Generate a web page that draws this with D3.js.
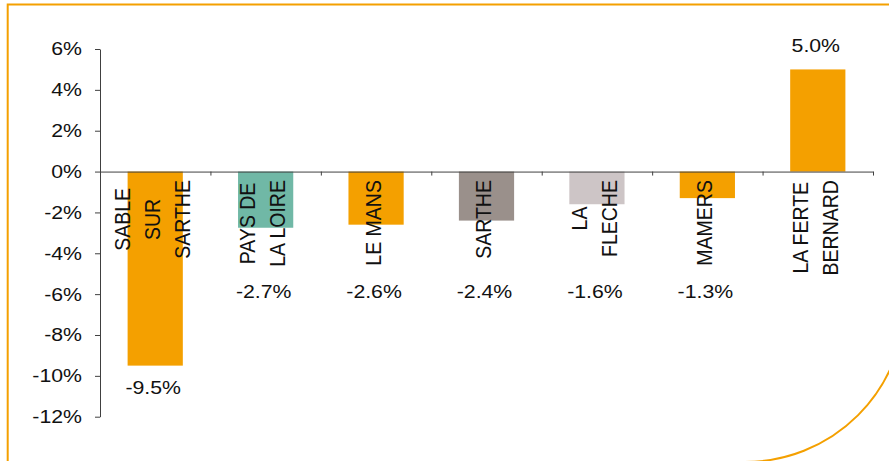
<!DOCTYPE html>
<html>
<head>
<meta charset="utf-8">
<script src="https://cdn.jsdelivr.net/npm/d3@7"></script>
<style>
  body { margin: 0; background: #fff; }
  svg { display: block; font-family: "Liberation Sans", Arial, sans-serif; }
</style>
</head>
<body>
<div id="wrapper"></div>
<script>
// data
const categories = ["SABLE\nSUR\nSARTHE", "PAYS DE\nLA LOIRE", "LE MANS", "SARTHE", "LA\nFLECHE", "MAMERS", "LA FERTE\nBERNARD"];
const values = [-9.5, -2.75, -2.6, -2.4, -1.6, -1.3, 5.0];
const valueLabels = ["-9.5%", "-2.7%", "-2.6%", "-2.4%", "-1.6%", "-1.3%", "5.0%"];
const barColors = ["#F4A000", "#70B8A6", "#F4A000", "#9A908B", "#CDC5C6", "#F4A000", "#F4A000"];
const yTicks = [-12, -10, -8, -6, -4, -2, 0, 2, 4, 6];

const width = 889, height = 461;
const stretch = 1.15; // text in the picture is a little wide

const svg = d3.select("#wrapper")
    .append("svg")
    .attr("width", width)
    .attr("height", height);

// orange frame, round bottom-right corner runs off the picture
svg.append("path")
    .attr("d", "M7.7,470 V4.5 H905 V302 A160,160 0 0 1 745,462 H7.7")
    .attr("fill", "none")
    .attr("stroke", "#F4A000")
    .attr("stroke-width", 2);

const xScale = d3.scaleBand()
    .domain(d3.range(categories.length))
    .range([100, 873])
    .paddingInner(0.5)
    .paddingOuter(0.25);

const yScale = d3.scaleLinear()
    .domain([-12, 6])
    .range([416.7, 49]);

// bars
svg.selectAll("rect.bar")
    .data(values)
    .join("rect")
    .attr("class", "bar")
    .attr("x", (d, i) => xScale(i))
    .attr("width", xScale.bandwidth())
    .attr("y", d => yScale(Math.max(0, d)))
    .attr("height", d => Math.abs(yScale(d) - yScale(0)))
    .attr("fill", (d, i) => barColors[i]);

// y axis
const yAxis = svg.append("g")
    .attr("transform", "translate(100,0)")
    .call(d3.axisLeft(yScale)
        .tickValues(yTicks)
        .tickSize(5)
        .tickSizeOuter(0)
        .tickFormat(d => d + "%"));

yAxis.select(".domain").attr("stroke", "#404040");
yAxis.selectAll(".tick line").attr("stroke", "#404040");
yAxis.selectAll(".tick text")
    .attr("x", -18 / stretch)
    .attr("transform", `scale(${stretch},1)`)
    .attr("fill", "#111")
    .style("font-size", "18.5px")
    .style("font-family", "'Liberation Sans', Arial, sans-serif");

// x axis at zero, ticks between categories
const xEdge = d3.scaleLinear().domain([0, categories.length]).range([100, 873]);
const xAxis = svg.append("g")
    .attr("transform", `translate(0,${yScale(0)})`)
    .call(d3.axisBottom(xEdge)
        .ticks(categories.length)
        .tickSize(4)
        .tickSizeOuter(0)
        .tickFormat(""));

xAxis.select(".domain").attr("stroke", "#404040");
xAxis.selectAll(".tick line").attr("stroke", "#404040");

// category labels, rotated, lines side by side
const lineGap = 30;
categories.forEach((c, i) => {
    const lines = c.split("\n");
    const cx = xScale(i) + xScale.bandwidth() / 2 - 3;
    const g = svg.append("g");
    const texts = lines.map((t, j) => g.append("text")
        .attr("text-anchor", "middle")
        .attr("dy", "0.35em")
        .attr("fill", "#111")
        .style("font-size", "19.5px")
        .text(t));
    const maxLen = d3.max(texts, t => t.node().getComputedTextLength());
    const cy = yScale(0) + 8.5 + maxLen / 2;
    texts.forEach((t, j) => {
        const x = cx + (j - (lines.length - 1) / 2) * lineGap;
        t.attr("transform", `translate(${x},${cy}) scale(${stretch},1) rotate(-90)`);
    });
});

// value labels
svg.selectAll("text.value")
    .data(values)
    .join("text")
    .attr("class", "value")
    .attr("text-anchor", "middle")
    .attr("fill", "#111")
    .style("font-size", "18.5px")
    .attr("transform", (d, i) => {
        const x = xScale(i) + xScale.bandwidth() / 2 - 2;
        const y = d >= 0 ? yScale(d) - 17 : Math.max(yScale(d) + 28, 298);
        return `translate(${x},${y}) scale(${stretch},1)`;
    })
    .text((d, i) => valueLabels[i]);
</script>
</body>
</html>
